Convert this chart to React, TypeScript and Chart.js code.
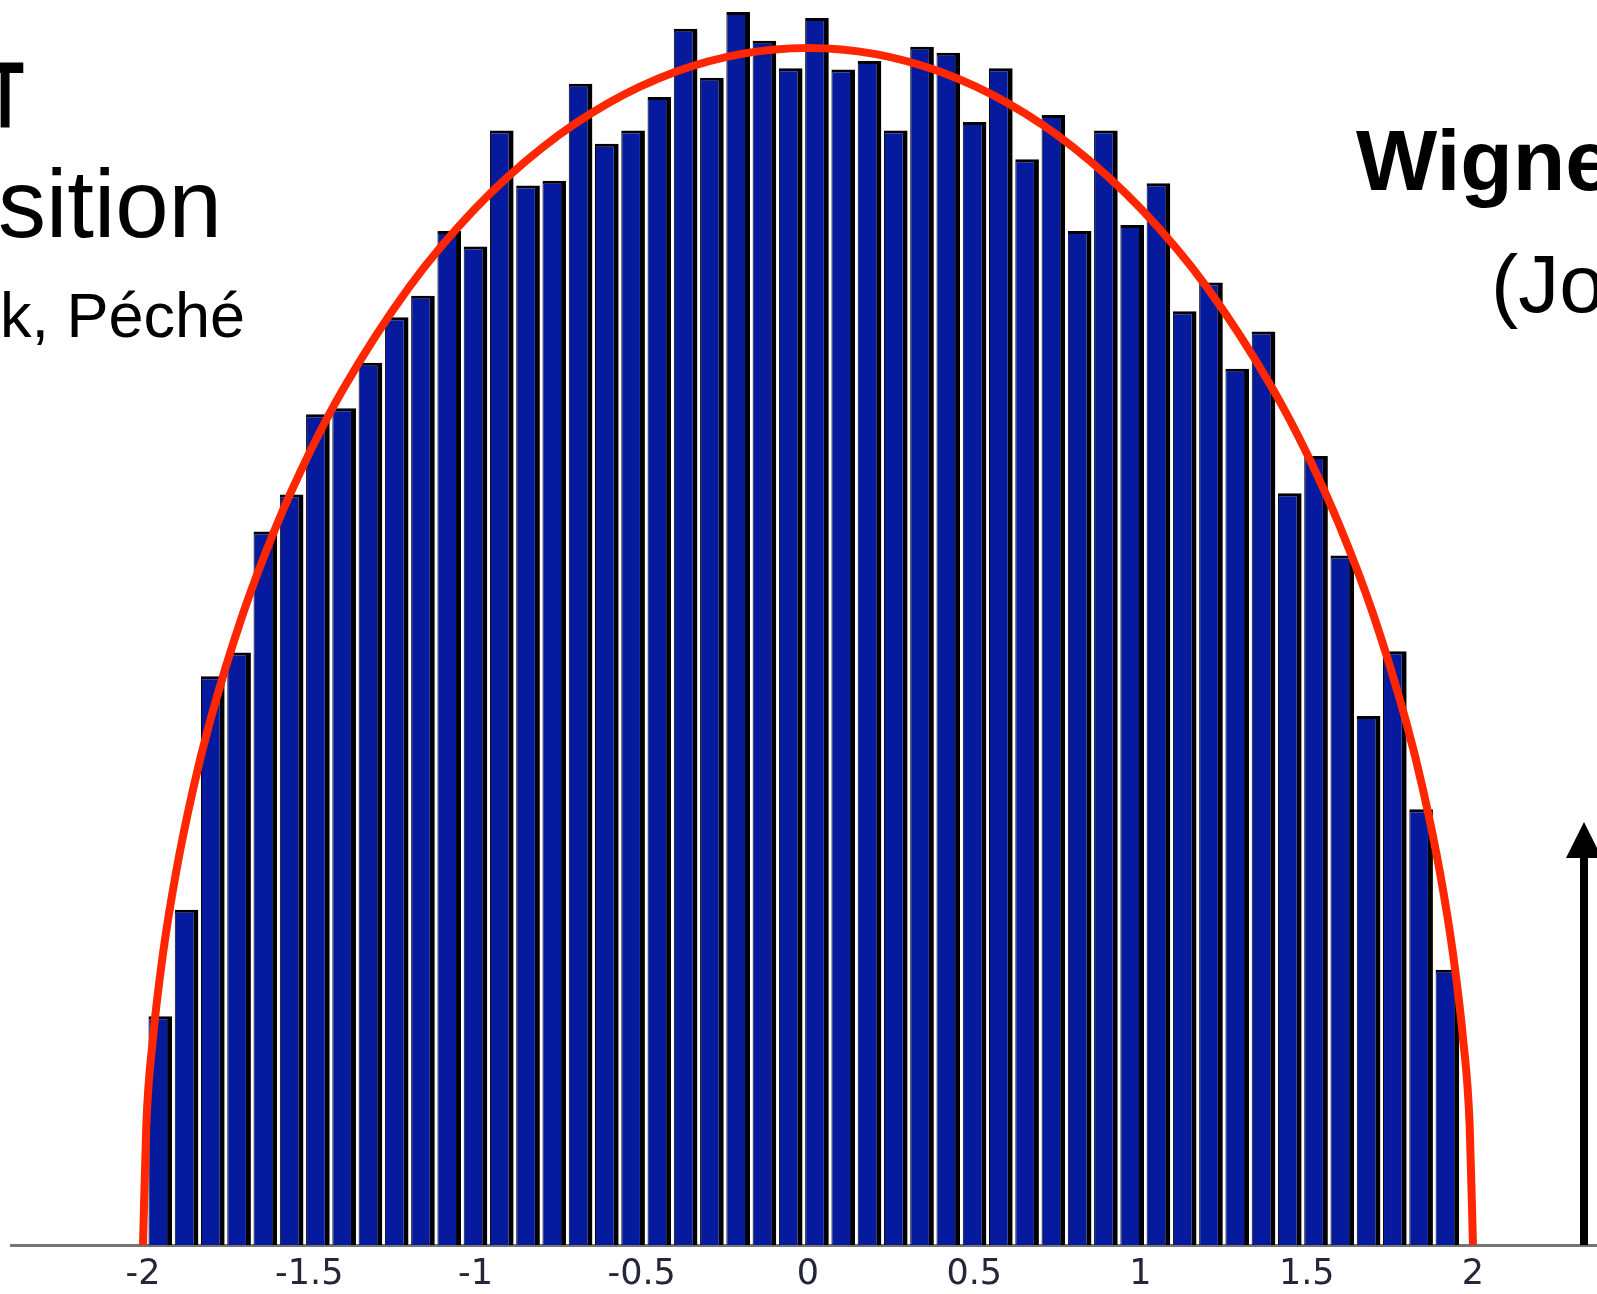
import React, { useEffect, useRef } from "react";
import { Chart, registerables } from "chart.js";

Chart.register(...registerables);

// Histogram bin centres (eigenvalue axis) and bar heights
const binCenters = [
  -1.948, -1.869, -1.79, -1.711, -1.632, -1.553, -1.474, -1.395, -1.316, -1.237,
  -1.158, -1.079, -1.0, -0.921, -0.842, -0.763, -0.684, -0.605, -0.526, -0.447,
  -0.368, -0.289, -0.21, -0.131, -0.052, 0.027, 0.106, 0.185, 0.264, 0.343,
  0.422, 0.501, 0.58, 0.659, 0.738, 0.817, 0.896, 0.975, 1.054, 1.133,
  1.212, 1.291, 1.37, 1.449, 1.528, 1.607, 1.686, 1.765, 1.844, 1.923,
];

const binCounts = [
  19.1, 28.0, 47.5, 49.5, 59.6, 62.7, 69.4, 69.9, 73.7, 77.5,
  79.3, 84.7, 83.4, 93.1, 88.5, 88.9, 97.0, 92.0, 93.1, 95.9,
  101.6, 97.5, 103.0, 100.6, 98.3, 102.5, 98.2, 98.9, 93.1, 100.1,
  99.6, 93.8, 98.3, 90.7, 94.4, 84.7, 93.1, 85.2, 88.7, 78.0,
  80.4, 73.2, 76.3, 62.8, 65.9, 57.6, 44.2, 49.6, 36.4, 23.0,
];

// Semicircle density curve samples
const curveX = [
  -2, -1.99, -1.97, -1.94, -1.9, -1.85, -1.8, -1.7, -1.6, -1.5, -1.4, -1.2, -1.0,
  -0.8, -0.6, -0.4, -0.2, 0, 0.2, 0.4, 0.6, 0.8, 1.0, 1.2, 1.4, 1.5, 1.6, 1.7,
  1.8, 1.85, 1.9, 1.94, 1.97, 1.99, 2,
];
const curveY = [
  0, 9.99, 17.26, 24.31, 31.22, 38.0, 43.59, 52.68, 60.0, 66.14, 71.41, 80.0, 86.6,
  91.65, 95.39, 97.98, 99.5, 100, 99.5, 97.98, 95.39, 91.65, 86.6, 80.0, 71.41, 66.14,
  60.0, 52.68, 43.59, 38.0, 31.22, 24.31, 17.26, 9.99, 0,
];

const xMin = -2.397;
const xMax = 2.373;
const yMax = 104;

const textFont = "'Liberation Sans', Arial, Helvetica, sans-serif";

export default function App() {
  const canvasRef = useRef<HTMLCanvasElement>(null);

  useEffect(() => {
    const canvas = canvasRef.current;
    if (!canvas) return;
    const chart = new Chart(canvas, {
      type: "bar",
      data: {
        datasets: [
          {
            type: "line",
            data: curveX.map((x, i) => ({ x, y: curveY[i] })),
            borderColor: "#ff2600",
            borderWidth: 8,
            pointRadius: 0,
            fill: false,
            cubicInterpolationMode: "monotone",
            order: 0,
          } as any,
          {
            type: "bar",
            data: binCenters.map((x, i) => ({ x, y: binCounts[i] })),
            backgroundColor: "#061a9e",
            borderColor: "#000000",
            borderWidth: { top: 3, right: 5, bottom: 0, left: 1 },
            barPercentage: 0.9,
            categoryPercentage: 1,
            order: 1,
          } as any,
        ],
      },
      options: {
        responsive: false,
        animation: false,
        layout: { padding: { left: 11, right: 0, top: 0, bottom: 0 } },
        plugins: {
          legend: { display: false },
          tooltip: { enabled: false },
        },
        scales: {
          x: {
            type: "linear",
            min: xMin,
            max: xMax,
            offset: false,
            grid: { display: false, offset: false, drawTicks: false },
            border: { display: true, color: "#747474", width: 3 },
            ticks: {
              stepSize: 0.5,
              includeBounds: false,
              autoSkip: false,
              maxRotation: 0,
              padding: 9,
              color: "#24263a",
              font: { family: "'DejaVu Sans', Verdana, sans-serif", size: 35 },
              callback: (v: any) => String(v),
            },
            afterFit: (scale: any) => {
              scale.height = 49;
            },
          },
          y: { display: false, min: 0, max: yMax },
        },
      } as any,
    });
    return () => chart.destroy();
  }, []);

  return (
    <div
      style={{
        position: "fixed",
        left: 0,
        top: 0,
        width: 1597,
        height: 1294,
        background: "#ffffff",
        overflow: "hidden",
      }}
    >
      <canvas
        ref={canvasRef}
        width={1597}
        height={1294}
        style={{ display: "block", position: "absolute", left: 0, top: 0 }}
      />
      <svg
        width={1597}
        height={1294}
        style={{ position: "absolute", left: 0, top: 0, pointerEvents: "none" }}
      >
        <text
          x={24 / 0.65}
          y={128}
          transform="scale(0.65,1)"
          textAnchor="end"
          fontFamily={textFont}
          fontWeight="bold"
          fontSize={95}
          fill="#000"
        >
          T
        </text>
        <text x={222} y={237} textAnchor="end" fontFamily={textFont} fontSize={96} fill="#000">
          sition
        </text>
        <text x={0} y={337} fontFamily={textFont} fontSize={63} fill="#000">
          k, Péché
        </text>
        <text x={1356} y={190} fontFamily={textFont} fontWeight="bold" fontSize={86} fill="#000">
          Wigne
        </text>
        <text x={1491} y={312} fontFamily={textFont} fontSize={82} fill="#000">
          (Jo
        </text>
        <rect x={1580} y={852} width={8} height={393} fill="#000" />
        <polygon points="1584,822 1566,858 1602,858" fill="#000" />
      </svg>
    </div>
  );
}
